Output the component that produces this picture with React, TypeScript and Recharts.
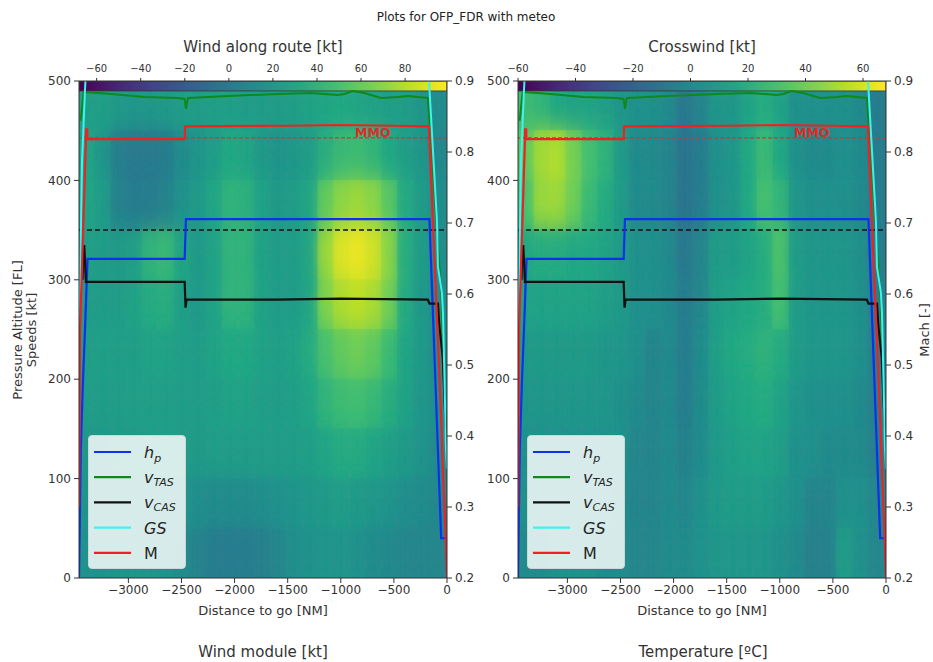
import React from 'react';
import { ComposedChart, Line, XAxis, YAxis, ReferenceArea, ReferenceLine, Legend } from 'recharts';

const FONT = "'DejaVu Sans', 'Liberation Sans', sans-serif";

// ---------- axes / ticks ----------
const X_DOMAIN = [-3465, 0];
const X_TICKS = [-3000, -2500, -2000, -1500, -1000, -500, 0];
const Y_TICKS = [0, 100, 200, 300, 400, 500];
const MACH_TICKS = [0.2, 0.3, 0.4, 0.5, 0.6, 0.7, 0.8, 0.9];
const WIND_CB_TICKS = [-60, -40, -20, 0, 20, 40, 60, 80];
const CROSS_CB_TICKS = [-60, -40, -20, 0, 20, 40, 60];
const WIND_CB_RANGE = [-68, 99];
const CROSS_CB_RANGE = [-60, 68];

// ---------- flight profile series ----------
const HP = [
  { d: -3465, v: 0 }, { d: -3448, v: 130 }, { d: -3427, v: 200 }, { d: -3405, v: 260 }, { d: -3385, v: 321 },
  { d: -2470, v: 321 }, { d: -2458, v: 361 }, { d: -165, v: 361 }, { d: -55, v: 40 }, { d: -5, v: 40 }, { d: 0, v: 5 },
];
const VTAS = [
  { d: -3450, v: 460 }, { d: -3420, v: 489 }, { d: -3160, v: 487 }, { d: -2850, v: 484 },
  { d: -2530, v: 483 }, { d: -2470, v: 482 }, { d: -2458, v: 472 }, { d: -2440, v: 483 }, { d: -2060, v: 485 },
  { d: -1590, v: 487 }, { d: -1280, v: 488 }, { d: -1030, v: 486 }, { d: -965, v: 487 }, { d: -890, v: 490 },
  { d: -780, v: 488 }, { d: -620, v: 483 }, { d: -460, v: 484 }, { d: -370, v: 485 }, { d: -180, v: 483 },
  { d: -95, v: 350 }, { d: -50, v: 280 }, { d: -38, v: 222 }, { d: -10, v: 150 }, { d: 0, v: 130 },
];
const VCAS = [
  { d: -3432, v: 300 }, { d: -3425, v: 334 }, { d: -3415, v: 334 }, { d: -3400, v: 298 }, { d: -2470, v: 298 },
  { d: -2462, v: 272 }, { d: -2452, v: 280 }, { d: -1600, v: 280 }, { d: -1000, v: 281 }, { d: -180, v: 280 },
  { d: -165, v: 276 }, { d: -85, v: 276 }, { d: -75, v: 258 }, { d: -70, v: 252 }, { d: -40, v: 222 },
  { d: -15, v: 160 }, { d: 0, v: 130 },
];
const GS = [
  { d: -3465, v: 230 }, { d: -3437, v: 417 }, { d: -3409, v: 490 }, { d: -3390, v: 530 }, { d: -3000, v: 520 },
  { d: -2500, v: 530 }, { d: -2000, v: 560 }, { d: -1500, v: 540 }, { d: -1000, v: 580 }, { d: -500, v: 560 },
  { d: -180, v: 520 }, { d: -95, v: 360 }, { d: -85, v: 313 }, { d: -48, v: 287 }, { d: -38, v: 267 },
  { d: -20, v: 182 }, { d: -10, v: 132 }, { d: 0, v: 110 },
];
const MACH = [
  { d: -3465, v: 0.3 }, { d: -3455, v: 0.55 }, { d: -3400, v: 0.815 }, { d: -3398, v: 0.832 }, { d: -3388, v: 0.832 },
  { d: -3386, v: 0.818 }, { d: -2470, v: 0.818 }, { d: -2466, v: 0.836 }, { d: -1500, v: 0.837 }, { d: -1000, v: 0.838 },
  { d: -500, v: 0.837 }, { d: -170, v: 0.836 }, { d: -50, v: 0.408 }, { d: -45, v: 0.376 }, { d: -10, v: 0.25 }, { d: 0, v: 0.2 },
];
const MMO = 0.82;
const FL_REF = 350;

// ---------- meteo grids (rows top->bottom, columns left->right) ----------
const COL_EDGES = [-3465, -3315, -3165, -3015, -2865, -2715, -2565, -2415, -2265, -2115, -1965, -1815, -1665, -1515, -1365, -1215, -1065, -915, -765, -615, -465, -315, -165, 0];
const ROW_EDGES = [500, 450, 400, 350, 300, 250, 200, 150, 100, 50, 0];

const WIND_ALONG = [
  [26, 26, 22, 20, 20, 22, 24, 24, 26, 26, 24, 24, 24, 26, 28, 30, 32, 30, 28, 26, 24, 20, 12],
  [30, 20, 4, 0, 0, 2, 12, 18, 24, 32, 30, 22, 18, 20, 24, 36, 44, 46, 42, 32, 26, 20, 10],
  [30, 24, 6, 2, 2, 6, 16, 22, 30, 40, 38, 28, 22, 24, 30, 58, 70, 74, 70, 56, 34, 24, 12],
  [26, 24, 22, 26, 40, 44, 30, 22, 28, 40, 40, 28, 24, 24, 30, 72, 90, 94, 88, 70, 36, 24, 14],
  [24, 24, 24, 28, 34, 36, 26, 22, 28, 40, 40, 28, 24, 24, 30, 66, 78, 82, 78, 64, 34, 22, 14],
  [26, 26, 26, 26, 28, 28, 26, 24, 28, 32, 32, 28, 26, 28, 34, 50, 58, 62, 58, 46, 30, 22, 14],
  [24, 24, 24, 26, 26, 26, 24, 24, 26, 28, 28, 26, 24, 26, 30, 40, 46, 48, 44, 36, 28, 20, 14],
  [20, 20, 22, 22, 24, 24, 24, 22, 24, 24, 24, 24, 24, 24, 26, 30, 34, 34, 30, 26, 22, 18, 12],
  [18, 18, 20, 20, 20, 20, 18, 14, 12, 12, 12, 14, 16, 18, 20, 22, 24, 22, 20, 18, 14, 12, 10],
  [16, 16, 18, 18, 18, 16, 12, 6, 2, 2, 2, 4, 8, 14, 16, 18, 18, 16, 12, 10, 8, 8, 8],
];
const CROSSWIND = [
  [27, 24, 17, 14, 14, 12, 7, 4, 4, 1, -9, -2, 7, 7, 14, 19, 14, 4, 4, 4, 4, 1, -6],
  [36, 50, 53, 42, 30, 23, 10, 1, 1, -2, -11, -6, 4, 7, 17, 27, 17, 4, 1, 1, 4, 1, -6],
  [30, 48, 49, 40, 27, 19, 10, 1, 1, -2, -11, -6, 4, 7, 17, 30, 24, 7, 4, 4, 4, 1, -6],
  [17, 19, 19, 17, 17, 14, 10, 4, 4, 1, -9, -2, 10, 10, 14, 19, 32, 10, 7, 7, 7, 4, -6],
  [14, 14, 14, 14, 14, 12, 9, 4, 4, 1, -6, -1, 12, 14, 17, 19, 30, 10, 7, 7, 7, 4, -4],
  [9, 9, 9, 9, 9, 7, 7, 4, -2, 1, -6, 1, 12, 17, 19, 22, 19, 10, 7, 7, 7, 4, -4],
  [7, 7, 7, 7, 7, 7, 4, 1, -2, 1, -6, 1, 10, 14, 17, 19, 14, 7, 4, 4, 4, 1, -4],
  [4, 4, 4, 4, 4, 4, 4, -1, -2, 1, -4, 1, 9, 12, 14, 14, 12, 4, 4, 1, 1, 1, -4],
  [4, 4, 4, 4, 4, 4, 1, -2, -2, 1, -1, 4, 9, 10, 10, 10, 7, 4, -2, -2, 4, 4, -1],
  [1, 1, 4, 4, 4, 1, 1, -1, -1, 1, 1, 4, 7, 7, 7, 7, 4, 1, -4, -4, 10, 4, -1],
];

// ---------- colormap ----------
const VIRIDIS = ['#440154', '#482475', '#414487', '#355f8d', '#2a788e', '#21918c', '#22a884', '#44bf70', '#7ad151', '#bddf26', '#fde725'];
function hexToRgb(h: string) {
  return [parseInt(h.slice(1, 3), 16), parseInt(h.slice(3, 5), 16), parseInt(h.slice(5, 7), 16)];
}
function viridis(t: number) {
  const tt = Math.max(0, Math.min(1, t));
  const p = tt * 10;
  const i = Math.min(9, Math.floor(p));
  const f = p - i;
  const a = hexToRgb(VIRIDIS[i]);
  const b = hexToRgb(VIRIDIS[i + 1]);
  const c = a.map((x, k) => Math.round(x + (b[k] - x) * f));
  return `rgb(${c[0]},${c[1]},${c[2]})`;
}

const fmtMinus = (v: number) => (v < 0 ? '\u2212' + Math.abs(v) : String(v));

const SERIES = [
  { key: 'hp', color: '#1030ee', label: 'hp' },
  { key: 'vTAS', color: '#10881a', label: 'vTAS' },
  { key: 'vCAS', color: '#111111', label: 'vCAS' },
  { key: 'GS', color: '#3ef2f2', label: 'GS' },
  { key: 'M', color: '#ee2222', label: 'M' },
];

const LegendBox = () => (
  <div style={{ width: 98, height: 134, background: 'rgba(255,255,255,0.82)', border: '1px solid #cfd6d6', borderRadius: 4, boxSizing: 'border-box' }}>
    <svg width={98} height={134} style={{ display: 'block', position: 'absolute', left: 0, top: 0 }}>
      {SERIES.map((s, i) => {
        const y = 17 + 25.2 * i;
        return (
          <g key={s.key}>
            <line x1={6} x2={43} y1={y} y2={y} stroke={s.color} strokeWidth={2.2} />
            <text x={56} y={y + 6} fontFamily={FONT} fontSize={16} fill="#262626">
              {s.key === 'hp' && (<><tspan fontStyle="italic">h</tspan><tspan fontStyle="italic" fontSize={11} dy={4}>p</tspan></>)}
              {s.key === 'vTAS' && (<><tspan fontStyle="italic">v</tspan><tspan fontStyle="italic" fontSize={11} dy={3}>TAS</tspan></>)}
              {s.key === 'vCAS' && (<><tspan fontStyle="italic">v</tspan><tspan fontStyle="italic" fontSize={11} dy={3}>CAS</tspan></>)}
              {s.key === 'GS' && <tspan fontStyle="italic">GS</tspan>}
              {s.key === 'M' && <tspan>M</tspan>}
            </text>
          </g>
        );
      })}
    </svg>
  </div>
);

const MmoLabel = (props: any) => {
  const vb = props.viewBox || {};
  return (
    <text x={(vb.x || 0) + (vb.width || 0) - 92} y={(vb.y || 0) - 1} fill="#e02a2a" fontWeight="bold" fontSize={12.5} fontFamily={FONT}>
      MMO
    </text>
  );
};

type PanelProps = {
  grid: number[][];
  cbRange: number[];
  cbTicks: number[];
  cbTitle: string;
  gradId: string;
  left: number;
  width: number;
  rightAxisWidth: number;
};

const tickStyle = { fontSize: 12, fill: '#333', fontFamily: FONT };

function Panel({ grid, cbRange, cbTicks, cbTitle, gradId, left, width, rightAxisWidth }: PanelProps) {
  const [cmin, cmax] = cbRange;
  const cbData = [{ c: cmin, v: null }, { c: cmax, v: null }];
  const blurId = `${gradId}-blur`;
  const base: React.ReactNode[] = [];
  const soft: React.ReactNode[] = [];
  grid.forEach((row, r) =>
    row.forEach((v, c) => {
      const col = viridis((v - cmin) / (cmax - cmin));
      const common = {
        xAxisId: 'main',
        yAxisId: 'left',
        x1: COL_EDGES[c],
        x2: COL_EDGES[c + 1],
        y1: ROW_EDGES[r + 1],
        y2: ROW_EDGES[r],
        fill: col,
        fillOpacity: 1,
        ifOverflow: 'hidden' as const,
      };
      base.push(<ReferenceArea key={`b${r}-${c}`} {...common} stroke={col} strokeWidth={0.8} />);
      soft.push(<ReferenceArea key={`s${r}-${c}`} {...common} stroke="none" filter={`url(#${blurId})`} />);
    })
  );
  return (
    <div style={{ position: 'absolute', left, top: 0 }}>
      <ComposedChart width={width} height={662} margin={{ top: 40, right: 0, bottom: 44, left: 19 }}>
        <defs>
          <linearGradient id={gradId} x1="0" y1="0" x2="1" y2="0">
            {VIRIDIS.map((c, i) => (
              <stop key={i} offset={i / 10} stopColor={c} />
            ))}
          </linearGradient>
          <filter id={blurId} x="-150%" y="-80%" width="400%" height="260%">
            <feGaussianBlur stdDeviation="6 13" />
          </filter>
        </defs>
        <XAxis
          xAxisId="main"
          dataKey="d"
          type="number"
          domain={X_DOMAIN}
          allowDataOverflow
          ticks={X_TICKS}
          tickFormatter={fmtMinus}
          tick={tickStyle}
          tickSize={5}
          tickMargin={2}
          stroke="#333"
          height={40}
          label={{ value: 'Distance to go [NM]', position: 'insideBottom', offset: 3, fontSize: 13, fill: '#333', fontFamily: FONT }}
        />
        <XAxis
          xAxisId="cb"
          dataKey="c"
          orientation="top"
          type="number"
          domain={cbRange}
          allowDataOverflow
          ticks={cbTicks}
          tickFormatter={fmtMinus}
          tick={{ fontSize: 10, fill: '#333', fontFamily: FONT }}
          tickSize={3}
          tickMargin={6}
          stroke="#333"
          height={41}
          label={{ value: cbTitle, position: 'insideTop', offset: 1, fontSize: 15, fill: '#333', fontFamily: FONT }}
        />
        <YAxis
          yAxisId="left"
          type="number"
          domain={[0, 500]}
          allowDataOverflow
          ticks={Y_TICKS}
          tick={tickStyle}
          tickSize={5}
          tickMargin={3}
          stroke="#333"
          width={60}
        />
        <YAxis
          yAxisId="right"
          orientation="right"
          type="number"
          domain={[0.2, 0.9]}
          allowDataOverflow
          ticks={MACH_TICKS}
          tickFormatter={(v: number) => v.toFixed(1)}
          tick={tickStyle}
          tickSize={5}
          tickMargin={3}
          stroke="#333"
          width={rightAxisWidth}
        />
        {base}
        {soft}
        <ReferenceArea
          xAxisId="main"
          yAxisId="left"
          x1={X_DOMAIN[0]}
          x2={X_DOMAIN[1]}
          y1={490}
          y2={500}
          fill={`url(#${gradId})`}
          fillOpacity={1}
          stroke="#333"
          strokeWidth={0.8}
          ifOverflow="hidden"
        />
        <ReferenceLine xAxisId="main" yAxisId="left" y={FL_REF} stroke="#111" strokeDasharray="5 3" strokeWidth={1.5} />
        <ReferenceLine xAxisId="main" yAxisId="right" y={MMO} stroke="#c43a3a" strokeDasharray="4 2" strokeWidth={1.3} label={<MmoLabel />} />
        <Line xAxisId="cb" yAxisId="left" data={cbData} dataKey="v" type="linear" stroke="none" dot={false} legendType="none" isAnimationActive={false} />
        <Line xAxisId="main" yAxisId="left" data={HP} dataKey="v" name="hp" type="linear" stroke={SERIES[0].color} strokeWidth={2.2} dot={false} isAnimationActive={false} />
        <Line xAxisId="main" yAxisId="left" data={VTAS} dataKey="v" name="vTAS" type="linear" stroke={SERIES[1].color} strokeWidth={2} dot={false} isAnimationActive={false} />
        <Line xAxisId="main" yAxisId="left" data={VCAS} dataKey="v" name="vCAS" type="linear" stroke={SERIES[2].color} strokeWidth={2.2} dot={false} isAnimationActive={false} />
        <Line xAxisId="main" yAxisId="left" data={GS} dataKey="v" name="GS" type="linear" stroke={SERIES[3].color} strokeWidth={2} dot={false} isAnimationActive={false} />
        <Line xAxisId="main" yAxisId="right" data={MACH} dataKey="v" name="M" type="linear" stroke={SERIES[4].color} strokeWidth={2.2} dot={false} isAnimationActive={false} />
        <Legend
          layout="vertical"
          align="center"
          verticalAlign="middle"
          content={<LegendBox />}
          wrapperStyle={{ left: 88, top: 435, width: 98, height: 134 }}
        />
      </ComposedChart>
    </div>
  );
}

export default function App() {
  return (
    <div style={{ position: 'absolute', left: 0, top: 0, width: 933, height: 662, background: '#fff', overflow: 'hidden', fontFamily: FONT }}>
      <Panel grid={WIND_ALONG} cbRange={WIND_CB_RANGE} cbTicks={WIND_CB_TICKS} cbTitle="Wind along route [kt]" gradId="cbL" left={0} width={480} rightAxisWidth={33} />
      <Panel grid={CROSSWIND} cbRange={CROSS_CB_RANGE} cbTicks={CROSS_CB_TICKS} cbTitle="Crosswind [kt]" gradId="cbR" left={439} width={494} rightAxisWidth={47} />
      <svg width={933} height={662} style={{ position: 'absolute', left: 0, top: 0, pointerEvents: 'none' }}>
        <text x={466} y={21} textAnchor="middle" fontSize={12} fill="#222" fontFamily={FONT}>Plots for OFP_FDR with meteo</text>
        <text transform="translate(22,330) rotate(-90)" textAnchor="middle" fontSize={13} fill="#333" fontFamily={FONT}>Pressure Altitude [FL]</text>
        <text transform="translate(36,330) rotate(-90)" textAnchor="middle" fontSize={13} fill="#333" fontFamily={FONT}>Speeds [kt]</text>
        <text transform="translate(929,330) rotate(-90)" textAnchor="middle" fontSize={13} fill="#333" fontFamily={FONT}>Mach [-]</text>
        <text x={263} y={657} textAnchor="middle" fontSize={15} fill="#333" fontFamily={FONT}>Wind module [kt]</text>
        <text x={703} y={657} textAnchor="middle" fontSize={15} fill="#333" fontFamily={FONT}>Temperature [ºC]</text>
      </svg>
    </div>
  );
}
